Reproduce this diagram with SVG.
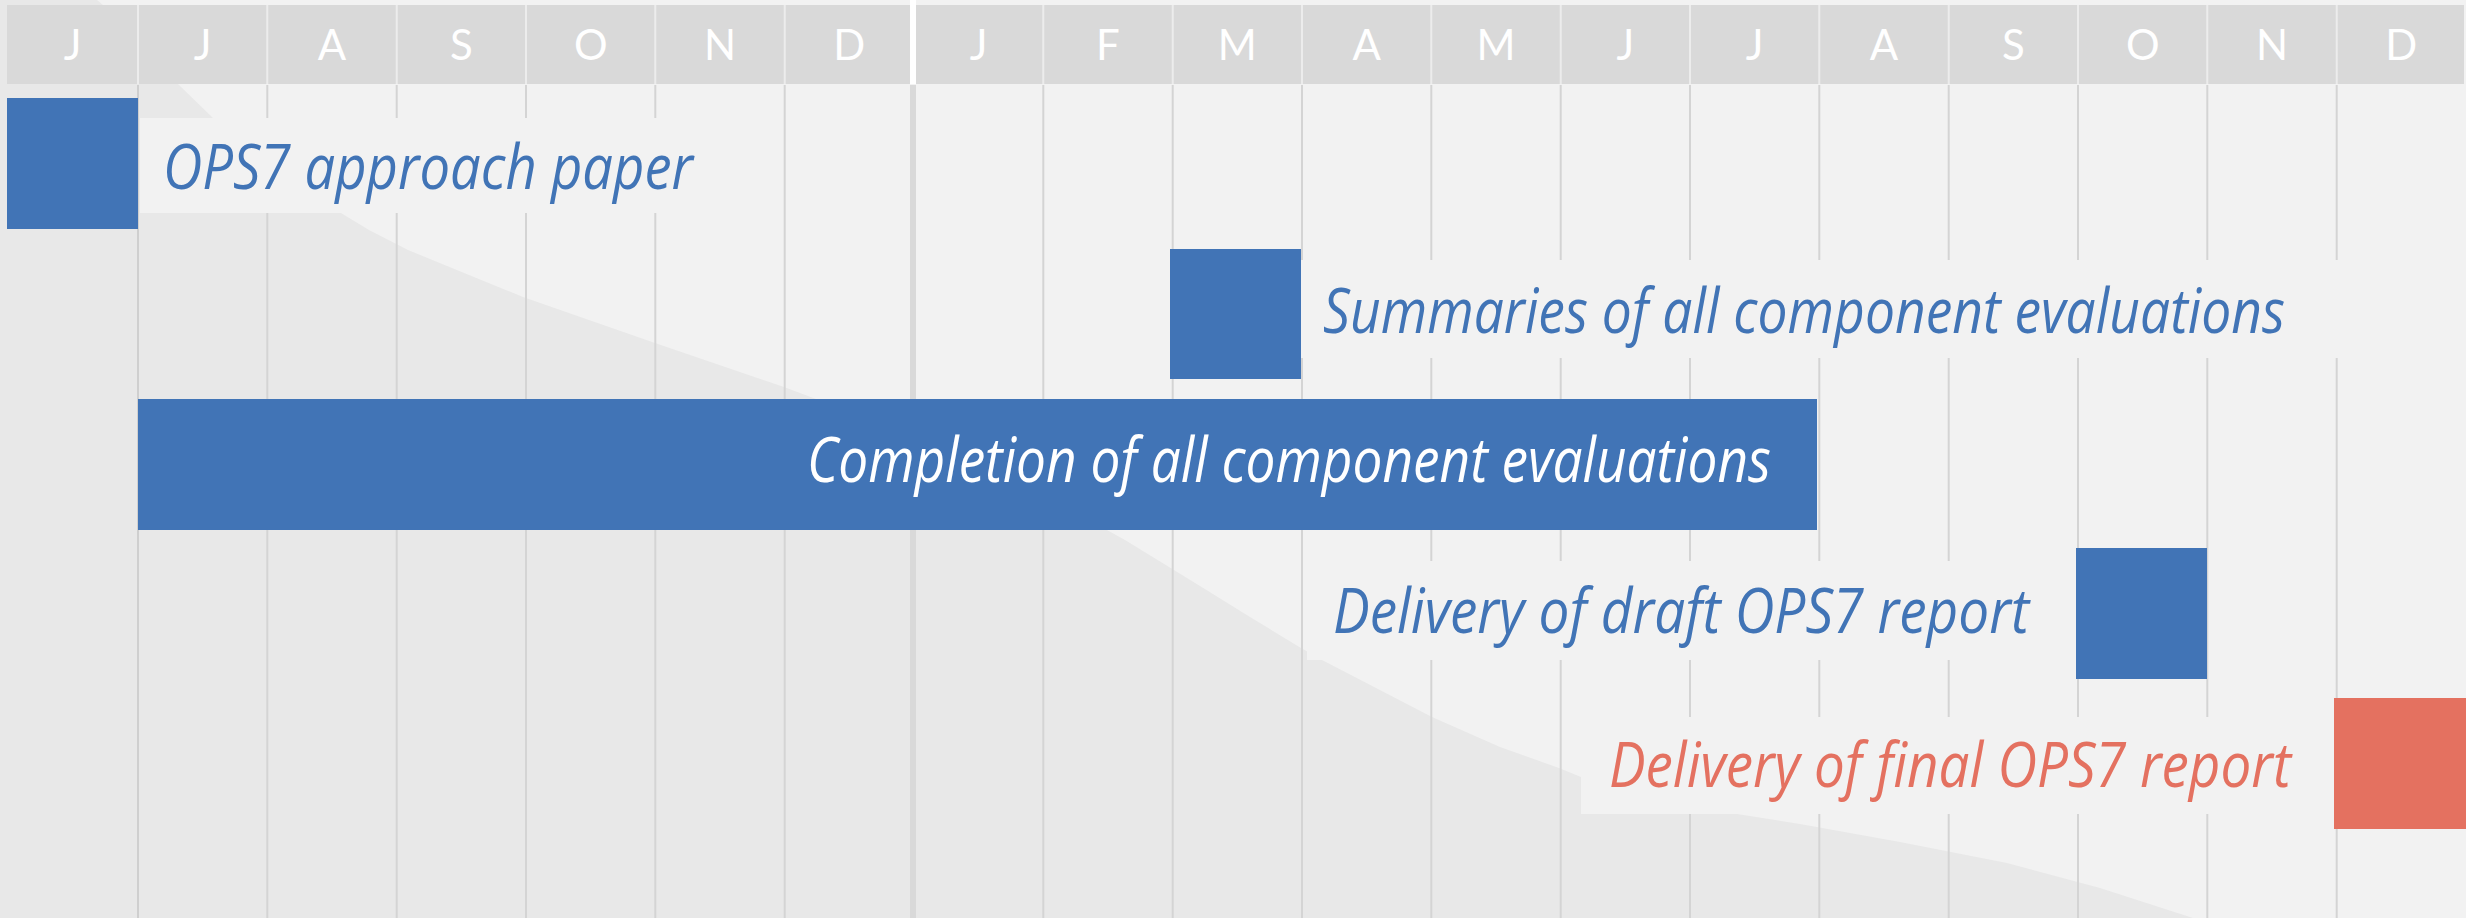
<svg xmlns="http://www.w3.org/2000/svg" width="2466" height="918" viewBox="0 0 2466 918">
  <style>
    .mon { font-family: Lato, "Liberation Sans", sans-serif; font-weight: 400; font-size: 42px; fill: #ffffff; text-anchor: middle; }
    .lbl { font-family: "Open Sans", "Liberation Sans", sans-serif; font-style: italic; font-size: 62px; }
    .blue { fill: #4174b6; }
    .red { fill: #e47160; }
    .wt { fill: #ffffff; }
    .box { fill: #f2f2f2; }
    .grid { stroke: #d4d4d4; stroke-width: 2; }
    .sep { stroke: #ececec; stroke-width: 2; }
  </style>

  <g id="background">
    <rect x="0" y="0" width="2466" height="918" fill="#f2f2f2"/>
    <path d="M0,0 L97,0 L103,5 L178,84 L213,118 L341,213 L369,230 L408,250 L523,297 L655,343 L784,387 L816,399 L960,466 L1107,530 L1125,540 L1200,586 L1250,617 L1301,648 L1322,660 L1432,717 L1500,747 L1559,768 L1581,777 L1660,796 L1737,814 L1800,824 L1900,842 L2007,863 L2100,888 L2193,918 L0,918 Z" fill="#e8e8e8"/>
  </g>

  <g id="header">
    <rect x="7" y="5" width="2457" height="79" fill="#d9d9d9"/>
    <g class="sep">
      <line x1="138" y1="5" x2="138" y2="84"/>
      <line x1="267.3" y1="5" x2="267.3" y2="84"/>
      <line x1="396.7" y1="5" x2="396.7" y2="84"/>
      <line x1="526" y1="5" x2="526" y2="84"/>
      <line x1="655.3" y1="5" x2="655.3" y2="84"/>
      <line x1="784.7" y1="5" x2="784.7" y2="84"/>
      <line x1="1043.3" y1="5" x2="1043.3" y2="84"/>
      <line x1="1172.7" y1="5" x2="1172.7" y2="84"/>
      <line x1="1302" y1="5" x2="1302" y2="84"/>
      <line x1="1431.3" y1="5" x2="1431.3" y2="84"/>
      <line x1="1560.7" y1="5" x2="1560.7" y2="84"/>
      <line x1="1690" y1="5" x2="1690" y2="84"/>
      <line x1="1819.3" y1="5" x2="1819.3" y2="84"/>
      <line x1="1948.7" y1="5" x2="1948.7" y2="84"/>
      <line x1="2078" y1="5" x2="2078" y2="84"/>
      <line x1="2207.3" y1="5" x2="2207.3" y2="84"/>
      <line x1="2336.7" y1="5" x2="2336.7" y2="84"/>
    </g>
    <rect x="910" y="0" width="6" height="84" fill="#ffffff"/>
    <text class="mon" x="72.5" y="60">J</text>
    <text class="mon" x="202.7" y="60">J</text>
    <text class="mon" x="332" y="60">A</text>
    <text class="mon" x="461.3" y="60">S</text>
    <text class="mon" x="590.7" y="60">O</text>
    <text class="mon" x="720" y="60">N</text>
    <text class="mon" x="849.3" y="60">D</text>
    <text class="mon" x="978.7" y="60">J</text>
    <text class="mon" x="1108" y="60">F</text>
    <text class="mon" x="1237.3" y="60">M</text>
    <text class="mon" x="1366.7" y="60">A</text>
    <text class="mon" x="1496" y="60">M</text>
    <text class="mon" x="1625.3" y="60">J</text>
    <text class="mon" x="1754.7" y="60">J</text>
    <text class="mon" x="1884" y="60">A</text>
    <text class="mon" x="2013.3" y="60">S</text>
    <text class="mon" x="2142.7" y="60">O</text>
    <text class="mon" x="2272" y="60">N</text>
    <text class="mon" x="2401.3" y="60">D</text>
  </g>

  <g id="grid" class="grid">
    <line x1="138" y1="85" x2="138" y2="918" stroke="#cfcfcf"/>
    <line x1="267.3" y1="85" x2="267.3" y2="918"/>
    <line x1="396.7" y1="85" x2="396.7" y2="918"/>
    <line x1="526" y1="85" x2="526" y2="918"/>
    <line x1="655.3" y1="85" x2="655.3" y2="918"/>
    <line x1="784.7" y1="85" x2="784.7" y2="918"/>
    <line x1="1043.3" y1="85" x2="1043.3" y2="918"/>
    <line x1="1172.7" y1="85" x2="1172.7" y2="918"/>
    <line x1="1302" y1="85" x2="1302" y2="918"/>
    <line x1="1431.3" y1="85" x2="1431.3" y2="918"/>
    <line x1="1560.7" y1="85" x2="1560.7" y2="918"/>
    <line x1="1690" y1="85" x2="1690" y2="918"/>
    <line x1="1819.3" y1="85" x2="1819.3" y2="918"/>
    <line x1="1948.7" y1="85" x2="1948.7" y2="918"/>
    <line x1="2078" y1="85" x2="2078" y2="918"/>
    <line x1="2207.3" y1="85" x2="2207.3" y2="918"/>
    <line x1="2336.7" y1="85" x2="2336.7" y2="918"/>
    <rect x="910" y="85" width="6" height="833" fill="#d9d9d9" stroke="none"/>
  </g>

  <g id="node-approach-paper">
    <rect class="box" x="140" y="118" width="580" height="95"/>
    <rect class="blue" x="7" y="98" width="131" height="131"/>
    <text class="lbl blue" x="163" y="189" textLength="530" lengthAdjust="spacingAndGlyphs">OPS7 approach paper</text>
  </g>

  <g id="node-summaries">
    <rect class="box" x="1301" y="260" width="1039" height="98"/>
    <rect class="blue" x="1170" y="249" width="131" height="130"/>
    <text class="lbl blue" x="1323" y="333" textLength="962" lengthAdjust="spacingAndGlyphs">Summaries of all component evaluations</text>
  </g>

  <g id="node-completion">
    <rect class="blue" x="138" y="399" width="1679" height="131"/>
    <text class="lbl wt" x="807" y="482" textLength="964" lengthAdjust="spacingAndGlyphs">Completion of all component evaluations</text>
  </g>

  <g id="node-draft-report">
    <rect class="box" x="1307" y="561" width="769" height="99"/>
    <rect class="blue" x="2076" y="548" width="131" height="131"/>
    <text class="lbl blue" x="1333" y="633" textLength="696" lengthAdjust="spacingAndGlyphs">Delivery of draft OPS7 report</text>
  </g>

  <g id="node-final-report">
    <rect class="box" x="1581" y="717" width="753" height="97"/>
    <rect class="red" x="2334" y="698" width="132" height="131"/>
    <text class="lbl red" x="1609" y="787" textLength="682" lengthAdjust="spacingAndGlyphs">Delivery of final OPS7 report</text>
  </g>
</svg>
